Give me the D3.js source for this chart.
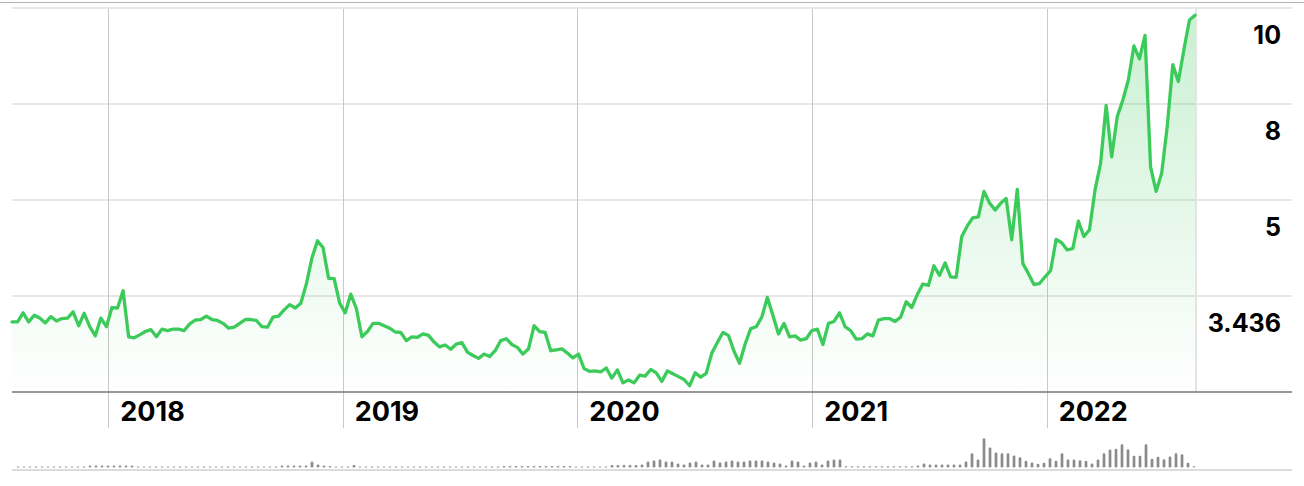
<!DOCTYPE html>
<html>
<head>
<meta charset="utf-8">
<script src="https://cdn.jsdelivr.net/npm/d3@7"></script>
<style>
	html, body { margin: 0; padding: 0; background: #fff; }
	svg { display: block; }
	text { font-family: Inter, "Liberation Sans", Arial, sans-serif; fill: #000; }
</style>
</head>
<body>
<div class="svg-container"></div>
<script>
// weekly-ish closes
var price_values = [
	3.46, 3.46, 3.65, 3.46, 3.60, 3.54, 3.44, 3.57, 3.48, 3.53,
	3.54, 3.67, 3.38, 3.64, 3.36, 3.17, 3.54, 3.36, 3.76, 3.75,
	4.11, 3.15, 3.13, 3.19, 3.26, 3.30, 3.15, 3.31, 3.28, 3.31,
	3.31, 3.28, 3.42, 3.50, 3.51, 3.58, 3.51, 3.49, 3.43, 3.33,
	3.35, 3.43, 3.51, 3.51, 3.49, 3.36, 3.35, 3.56, 3.58, 3.71,
	3.82, 3.75, 3.85, 4.25, 4.79, 5.15, 5.01, 4.37, 4.36, 3.85,
	3.65, 4.04, 3.74, 3.15, 3.26, 3.43, 3.43, 3.38, 3.33, 3.25,
	3.24, 3.07, 3.15, 3.14, 3.21, 3.18, 3.04, 2.94,
	2.98, 2.89, 3.00, 3.03, 2.83, 2.76, 2.70, 2.79, 2.74, 2.86,
	3.07, 3.11, 2.99, 2.93, 2.79, 2.90, 3.38, 3.26, 3.24, 2.86,
	2.88, 2.90, 2.81, 2.71, 2.79, 2.49, 2.43, 2.44, 2.42, 2.50,
	2.29, 2.46, 2.19, 2.25, 2.19, 2.35, 2.33, 2.47, 2.40, 2.22,
	2.44, 2.38, 2.32, 2.26, 2.13, 2.40, 2.31, 2.39, 2.81, 3.03,
	3.24, 3.18, 2.85, 2.60, 3.00, 3.32, 3.36, 3.56, 3.97, 3.60,
	3.21, 3.43, 3.15, 3.17, 3.08, 3.11, 3.28, 3.31, 2.99, 3.43,
	3.47, 3.65, 3.36, 3.28, 3.10, 3.11, 3.21,
	3.17, 3.50, 3.53, 3.53, 3.47, 3.56, 3.88, 3.76, 4.03, 4.25,
	4.22, 4.63, 4.43, 4.69, 4.40, 4.39, 5.24, 5.46, 5.63, 5.65,
	6.18, 5.94, 5.79, 5.93, 6.03, 5.17, 6.22, 4.68, 4.47, 4.24,
	4.26, 4.40, 4.53, 5.18, 5.11, 4.96, 4.99, 5.56, 5.24, 5.38,
	6.21, 6.76, 7.97, 6.90, 7.74, 8.08, 8.50, 9.21, 8.94, 9.43,
	6.69, 6.18, 6.56, 7.53, 8.82, 8.47, 9.13, 9.75, 9.85
];

var volume_values = [
	1, 1, 1, 1, 1, 1, 1, 1, 1, 1, 1, 1,
	2, 2, 2, 2, 2, 2, 2, 2,
	1, 1, 1, 1, 1, 1, 1, 1, 1, 1, 1, 1, 1, 1, 1, 1, 1, 1, 1, 1, 1, 1, 1, 1,
	2, 2, 2, 2, 2,
	6, 3, 2, 1.5,
	1, 1, 1,
	2.5,
	1, 1, 1, 1, 1, 1, 1, 1, 1, 1, 1, 1, 1, 1, 1, 1, 1, 1, 1, 1, 1, 1, 1, 1,
	1.6, 1.6, 1.6, 1.6, 1.6, 1.6, 1.6, 1.6, 1.6, 1.6, 1.6, 1.6,
	1, 1, 1, 1, 1, 1,
	2.5, 2.5, 2.5, 2.5, 2.5,
	3, 6, 7, 8, 6, 6, 4, 3, 5, 6, 3, 3, 7, 5, 6, 7, 6, 6, 7, 7,
	7, 6, 5, 4, 2, 7, 6, 2, 5, 6, 3, 7, 8, 8,
	1.3, 1.3, 1.3, 1.3, 1.3, 1.3, 1.3, 1.3, 1.3, 1.3, 1.3, 1.3,
	2, 4, 3, 3, 3, 3, 3, 3, 6,
	14.3, 8, 29.3, 20, 15, 14.3, 14.3, 12, 10.3, 6.7,
	5, 3.7, 4.7, 9.3, 6.7, 14.3, 8, 8, 7.3, 6.7,
	4, 8, 14.3, 18, 18.7, 23.3, 18.3, 11.7, 11.7, 23.3,
	8.7, 10.7, 8.3, 11, 14.3, 13.3, 4.7, 1.3
];

var first_date = new Date(2017, 7, 4),
	last_date = new Date(2022, 7, 20);

var year_ticks = [2018, 2019, 2020, 2021, 2022];
var grid_levels = [10, 8, 6, 4];
var price_labels = ["10", "8", "5", "3.436"];

(function () {

	"use strict";

	var width = 1304,
		height = 486;

	var plot_left = 12,
		plot_right = 1195,
		grid_right = 1292,
		plot_top = 8,
		plot_bottom = 392;

	var svg = d3.select(".svg-container").append("svg")
		.attr("width", width)
		.attr("height", height);

	var x_time = d3.scaleTime().domain([first_date, last_date]).range([plot_left, plot_right]),
		x = d3.scaleLinear().domain([0, price_values.length - 1]).range([plot_left, plot_right]),
		y = d3.scaleLinear().domain([2, 10]).range([plot_bottom, plot_top]),
		vol_x = d3.scaleLinear().domain([0, volume_values.length - 1]).range([18, 1194]),
		vol_y = d3.scaleLinear().domain([0, 30]).range([467.5, 437.5]);

	var grad = svg.append("defs").append("linearGradient")
		.attr("id", "fill-green")
		.attr("gradientUnits", "userSpaceOnUse")
		.attr("x1", 0).attr("x2", 0)
		.attr("y1", y(10)).attr("y2", y(2));
	grad.append("stop").attr("offset", 0).attr("stop-color", "#3cc85a").attr("stop-opacity", 0.28);
	grad.append("stop").attr("offset", 1).attr("stop-color", "#3cc85a").attr("stop-opacity", 0.0);

	// top rule
	svg.append("line")
		.attr("x1", 0).attr("x2", width)
		.attr("y1", 2.5).attr("y2", 2.5)
		.attr("stroke", "#b4b4b4").attr("stroke-width", 1);

	// horizontal grid
	svg.selectAll(".hgrid")
		.data(grid_levels)
		.enter()
		.append("line")
		.attr("class", "hgrid")
		.attr("x1", plot_left).attr("x2", grid_right)
		.attr("y1", function (d) { return y(d); })
		.attr("y2", function (d) { return y(d); })
		.attr("stroke", function (d, i) { return i === 0 ? "#e6e6e6" : "#cfcfcf"; })
		.attr("stroke-width", function (d, i) { return i === 0 ? 2 : 1; });

	// year lines run down through the label strip
	var year_dates = year_ticks.map(function (d) { return new Date(d, 0, 1); });

	svg.selectAll(".vgrid")
		.data(year_dates)
		.enter()
		.append("line")
		.attr("class", "vgrid")
		.attr("x1", function (d) { return Math.round(x_time(d)) + 0.5; })
		.attr("x2", function (d) { return Math.round(x_time(d)) + 0.5; })
		.attr("y1", plot_top + 1).attr("y2", 428)
		.attr("stroke", "#c9c9c9").attr("stroke-width", 1);

	// end of data marker
	svg.append("line")
		.attr("x1", x(price_values.length - 1) + 1).attr("x2", x(price_values.length - 1) + 1)
		.attr("y1", plot_top + 1).attr("y2", plot_bottom)
		.attr("stroke", "#e4e4e4").attr("stroke-width", 2);

	var area = d3.area()
		.x(function (d, i) { return x(i); })
		.y0(y(2))
		.y1(function (d) { return y(d); });

	var line = d3.line()
		.x(function (d, i) { return x(i); })
		.y(function (d) { return y(d); });

	svg.append("path")
		.datum(price_values)
		.attr("d", area)
		.attr("fill", "url(#fill-green)");

	// baseline axis
	svg.append("line")
		.attr("x1", plot_left).attr("x2", grid_right)
		.attr("y1", plot_bottom).attr("y2", plot_bottom)
		.attr("stroke", "#767676").attr("stroke-width", 1.5);

	svg.append("path")
		.datum(price_values)
		.attr("d", line)
		.attr("fill", "none")
		.attr("stroke", "#3ccb5a")
		.attr("stroke-width", 3.3)
		.attr("stroke-linejoin", "round")
		.attr("stroke-linecap", "round");

	// price labels sit in the band under each grid line
	svg.selectAll(".plabel")
		.data(grid_levels)
		.enter()
		.append("text")
		.attr("class", "plabel")
		.attr("x", 1281)
		.attr("y", function (d) { return y(d) + 36; })
		.attr("text-anchor", "end")
		.style("font-size", "25px")
		.style("font-weight", 700)
		.text(function (d, i) { return price_labels[i]; });

	svg.selectAll(".ylabel")
		.data(year_dates)
		.enter()
		.append("text")
		.attr("class", "ylabel")
		.attr("x", function (d) { return x_time(d) + 12; })
		.attr("y", 421)
		.style("font-size", "27px")
		.style("font-weight", 700)
		.text(function (d) { return d.getFullYear(); });

	// volume strip
	svg.append("line")
		.attr("x1", plot_left).attr("x2", grid_right)
		.attr("y1", 470).attr("y2", 470)
		.attr("stroke", "#d0d0d0").attr("stroke-width", 1.5);

	svg.selectAll(".vol")
		.data(volume_values)
		.enter()
		.append("rect")
		.attr("class", "vol")
		.attr("x", function (d, i) { return vol_x(i) - 1.35; })
		.attr("y", function (d) { return vol_y(d); })
		.attr("width", 2.7)
		.attr("height", function (d) { return vol_y(0) - vol_y(d); })
		.attr("rx", 1.2)
		.attr("fill", "#8b8b8f");

})();
</script>
</body>
</html>
